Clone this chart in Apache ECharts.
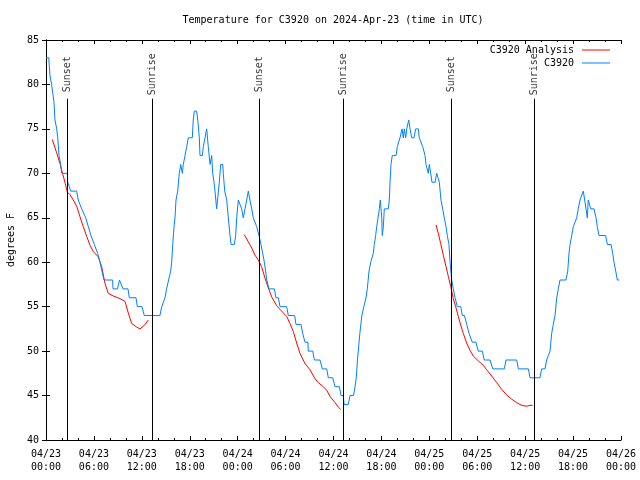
<!DOCTYPE html>
<html>
<head>
<meta charset="utf-8">
<script src="https://cdn.jsdelivr.net/npm/echarts@6/dist/echarts.min.js"></script>
<style>html,body{margin:0;padding:0;background:#fff}#c{width:640px;height:480px}</style>
</head>
<body>
<div id="c"></div>
<script>
// hours since 2024-04-23 00:00 UTC
var xTickLabels = ['04/23\n00:00','04/23\n06:00','04/23\n12:00','04/23\n18:00','04/24\n00:00','04/24\n06:00','04/24\n12:00','04/24\n18:00','04/25\n00:00','04/25\n06:00','04/25\n12:00','04/25\n18:00','04/26\n00:00'];
var obsHours = [0.00,0.35,0.42,0.50,0.70,0.85,1.00,1.12,1.34,1.47,1.63,1.84,1.97,2.67,2.72,3.09,3.84,4.04,4.47,4.97,5.30,5.63,6.05,6.47,6.76,7.01,7.26,8.35,8.39,8.95,9.20,9.40,9.64,10.27,10.43,11.27,11.43,12.02,12.31,14.27,14.49,14.90,15.10,15.35,15.61,15.74,15.87,16.03,16.15,16.28,16.49,16.69,16.87,17.07,17.19,17.41,17.62,17.82,18.32,18.44,18.57,18.87,19.00,19.20,19.28,19.58,19.70,19.91,20.12,20.32,20.54,20.75,20.87,21.04,21.16,21.37,21.58,21.70,21.87,22.13,22.20,22.38,22.63,22.83,23.04,23.17,23.58,23.75,23.88,24.08,24.33,24.50,24.70,24.92,25.13,25.33,25.54,25.76,25.96,26.17,26.38,26.67,26.92,27.13,27.34,27.50,27.64,27.80,27.92,28.59,28.80,29.10,29.30,30.14,30.34,31.14,31.30,31.93,32.14,32.43,32.80,32.84,33.40,33.60,34.31,34.60,35.15,35.35,35.90,36.19,36.73,36.94,37.23,37.32,37.85,38.07,38.50,38.70,38.85,39.00,39.10,39.30,39.55,39.80,40.07,40.23,40.45,40.66,40.86,40.98,41.11,41.28,41.41,41.61,41.74,41.86,42.04,42.11,42.24,42.36,42.86,42.99,43.08,43.20,43.36,43.83,43.99,44.20,44.33,44.45,44.58,44.74,44.87,45.04,45.17,45.29,45.42,45.58,45.79,46.08,46.29,46.62,46.74,46.96,47.17,47.46,47.58,47.75,47.87,48.00,48.17,48.33,48.50,48.71,48.92,49.12,49.25,49.46,49.67,49.87,50.09,50.25,50.46,50.59,50.80,51.00,51.22,51.43,51.50,51.93,52.13,52.40,52.68,52.97,53.38,53.84,54.13,54.63,54.88,55.60,55.94,57.39,57.60,58.94,59.14,60.40,60.60,61.85,62.07,62.48,62.69,62.90,63.11,63.32,63.52,63.74,63.95,64.15,64.36,65.11,65.33,65.49,65.62,65.83,66.03,66.24,66.45,66.65,66.87,67.08,67.28,67.49,67.62,67.78,67.90,68.03,68.21,68.62,68.87,69.03,69.25,70.08,70.29,70.75,70.96,71.12,71.34,71.54,71.79];
var obsTemps = [83,83,82,81,80,79,78,76,75,74,72,71,70,70,69,68,68,67,66,65,64,63,62,61,60,59,58,58,57,57,58,58,57,57,56,56,55,55,54,54,55,56,57,58,59,60,62,64,65,67,68,70,71,70,71,72,73,74,74,76,77,77,76,74,72,72,73,74,75,73,71,72,70,69,68,66,66,69,71,71,70,68,67,65,63,62,62,63,65,67,67,66,65,66,67,68,67,66,65,65,64,63,62,61,60,59,58,58,57,57,56,56,55,55,54,54,53,53,52,51,51,50,50,49,49,48,48,47,47,46,46,45,45,44,44,45,45,46,47,49,50,52,54,55,56,57,59,60,60,61,62,63,64,64,66,67,65,63,64,66,66,67,69,71,72,72,73,73,74,74,75,74,75,74,75,75,76,75,74,74,75,75,74,74,73,72,71,71,70,71,70,69,69,69,70,70,69,67,66,65,64,63,62,60,58,57,56,56,55,55,54,54,53,52,51,51,50,50,49,49,48,48,49,49,48,48,47,47,48,48,49,49,50,52,53,54,56,57,58,58,59,61,62,63,64,64,65,66,67,67,68,68,66,65,67,67,66,66,65,64,63,63,62,62,61,60,59,58,58];
var anaHours1 = [0.79,1.34,1.75,2.10,2.40,2.67,3.00,3.42,3.84,4.26,4.67,5.10,5.51,5.92,6.55,6.97,7.39,7.80,8.43,9.27,9.89,10.30,10.73,11.36,11.77,12.31,12.81];
var anaTemps1 = [73.8,72.3,71.1,69.9,68.9,67.9,67.6,67.0,66.3,65.1,64.0,62.9,61.9,61.2,60.6,59.5,57.6,56.5,56.2,55.9,55.6,54.3,53.1,52.7,52.5,52.9,53.5];
var anaHours2 = [24.83,25.33,25.76,26.17,26.58,27.00,27.42,27.84,28.26,28.89,29.30,29.71,30.14,30.55,30.97,31.39,31.80,32.43,33.06,33.68,34.10,34.72,35.15,35.56,36.19,36.60,36.90];
var anaTemps2 = [63.1,62.3,61.6,60.8,60.25,59.5,58.2,57.1,56.1,55.1,54.7,54.3,53.9,53.1,52.2,50.9,49.75,48.6,47.9,46.9,46.45,46.0,45.6,44.9,44.2,43.7,43.45];
var anaHours3 = [48.84,49.12,49.42,49.75,50.09,50.38,50.68,51.00,51.30,51.63,51.93,52.25,52.68,53.09,53.50,54.13,54.76,55.18,55.81,56.44,57.06,57.69,58.31,58.94,59.56,60.19,60.60,60.94];
var anaTemps3 = [64.2,63.25,62.1,60.8,59.5,58.4,57.25,55.9,55.0,53.9,52.9,52.0,50.9,50.1,49.45,48.9,48.4,47.9,47.2,46.45,45.7,45.06,44.6,44.2,43.9,43.8,43.9,43.9];
var sunHours = [2.67,13.31,26.71,37.23,50.75,61.15];
var sunLabels = ['Sunset','Sunrise','Sunset','Sunrise','Sunset','Sunrise'];

var FONT = 'DejaVu Sans Mono';
function pairs(h, t){ return h.map(function(v,i){ return [v, t[i]]; }); }
var obsData = pairs(obsHours, obsTemps);
var anaData = pairs(anaHours1, anaTemps1).concat([[18, null]], pairs(anaHours2, anaTemps2), [[42, null]], pairs(anaHours3, anaTemps3));
var sunData = sunHours.map(function(h,i){ return [h, 81.15, sunLabels[i]]; });

var axisCommon = {
  type: 'value',
  axisLine: {show: true, lineStyle: {color: '#000', width: 1}},
  splitLine: {show: false}
};
var chart = echarts.init(document.getElementById('c'), null, {renderer: 'canvas'});
chart.setOption({
  animation: false,
  backgroundColor: '#fff',
  title: {
    text: 'Temperature for C3920 on 2024-Apr-23 (time in UTC)',
    left: 333, top: 15, textAlign: 'center', padding: 0,
    textStyle: {fontFamily: FONT, fontSize: 10, fontWeight: 'normal', color: '#000'}
  },
  legend: {
    data: ['C3920 Analysis', 'C3920'],
    orient: 'vertical', right: 30, top: 45, align: 'right', padding: 0,
    icon: 'rect', itemWidth: 28, itemHeight: 1, itemGap: 3,
    textStyle: {fontFamily: FONT, fontSize: 10, color: '#000', lineHeight: 10, padding: [0, 3, 0, 0]}
  },
  grid: {left: 46, right: 19, top: 40, bottom: 40, containLabel: false, outerBoundsMode: 'none'},
  xAxis: [
    Object.assign({}, axisCommon, {
      min: 0, max: 72, interval: 6, position: 'bottom',
      axisTick: {show: true, inside: true, length: 4, lineStyle: {color: '#000'}},
      minorTick: {show: true, splitNumber: 3, length: 2, lineStyle: {color: '#000'}},
      axisLabel: {
        fontFamily: FONT, fontSize: 10, color: '#000', margin: 8, lineHeight: 13,
        formatter: function(v){ return xTickLabels[Math.round(v/6)]; }
      }
    }),
    Object.assign({}, axisCommon, {
      min: 0, max: 72, interval: 6, position: 'top',
      axisTick: {show: true, inside: true, length: 4, lineStyle: {color: '#000'}},
      minorTick: {show: true, splitNumber: 3, length: 2, lineStyle: {color: '#000'}},
      axisLabel: {show: false}
    })
  ],
  yAxis: [
    Object.assign({}, axisCommon, {
      min: 40, max: 85, interval: 5, position: 'left',
      name: 'degrees F', nameLocation: 'middle', nameGap: 30, nameRotate: 90,
      nameTextStyle: {fontFamily: FONT, fontSize: 10, color: '#000'},
      axisTick: {show: true, inside: true, length: 4, lineStyle: {color: '#000'}},
      axisLabel: {fontFamily: FONT, fontSize: 10, color: '#000', margin: 7}
    }),
    Object.assign({}, axisCommon, {
      min: 40, max: 85, interval: 5, position: 'right',
      axisTick: {show: true, inside: true, length: 4, lineStyle: {color: '#000'}},
      axisLabel: {show: false}
    })
  ],
  series: [
    {
      name: 'C3920 Analysis', type: 'line', data: anaData, showSymbol: false, symbol: 'none',
      connectNulls: false, color: '#ff0000', lineStyle: {color: '#ff0000', width: 1}, z: 3
    },
    {
      name: 'C3920', type: 'line', data: obsData, showSymbol: false, symbol: 'none',
      color: '#0080ff', lineStyle: {color: '#0080ff', width: 1}, z: 4
    },
    {
      name: 'sun', type: 'scatter', data: sunData, symbolSize: 0, silent: true, z: 5,
      label: {
        show: true, position: 'inside', rotate: 90, align: 'center', verticalAlign: 'middle',
        fontFamily: FONT, fontSize: 10, color: '#000',
        formatter: function(p){ return p.value[2]; }
      },
      markLine: {
        silent: true, symbol: ['none','none'], animation: false,
        label: {show: false},
        lineStyle: {color: '#000', type: 'solid', width: 1},
        data: sunHours.map(function(h){ return [{coord: [h, 40]}, {coord: [h, 78.4]}]; })
      }
    }
  ]
});
</script>
</body>
</html>
